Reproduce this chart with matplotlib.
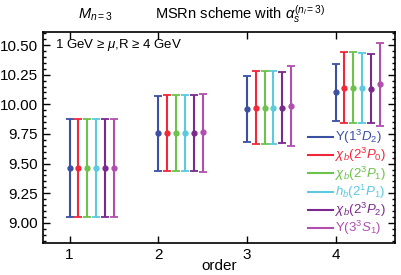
import matplotlib
matplotlib.use('Agg')
import matplotlib.pyplot as plt
from matplotlib.ticker import MultipleLocator

plt.rcParams['font.family'] = ['Liberation Sans', 'DejaVu Sans']
plt.rcParams['mathtext.fontset'] = 'custom'
plt.rcParams['mathtext.rm'] = 'Liberation Sans'
plt.rcParams['mathtext.it'] = 'Liberation Sans:italic'
plt.rcParams['mathtext.bf'] = 'Liberation Sans:bold'

# 數據
orders = [1, 2, 3, 4]
labels = [r'$\Upsilon(1^3D_2)$', r'$\chi_b(2^3P_0)$', r'$\chi_b(2^3P_1)$',
          r'$h_b(2^1P_1)$', r'$\chi_b(2^3P_2)$', r'$\Upsilon(3^3S_1)$']
colors = ['#3B4FA3', '#F0283A', '#6CC24A', '#5BC9DE', '#7A2A8C', '#B04FAE']

center = [
    [9.462, 9.754, 9.957, 10.100],
    [9.462, 9.757, 9.970, 10.139],
    [9.462, 9.757, 9.970, 10.139],
    [9.462, 9.757, 9.970, 10.139],
    [9.462, 9.757, 9.970, 10.131],
    [9.462, 9.763, 9.985, 10.170],
]
upper = [
    [9.875, 10.072, 10.240, 10.339],
    [9.875, 10.078, 10.278, 10.443],
    [9.875, 10.078, 10.278, 10.443],
    [9.875, 10.078, 10.278, 10.432],
    [9.875, 10.078, 10.272, 10.424],
    [9.875, 10.089, 10.322, 10.514],
]
lower = [
    [9.050, 9.439, 9.678, 9.861],
    [9.050, 9.434, 9.662, 9.839],
    [9.050, 9.434, 9.662, 9.839],
    [9.050, 9.434, 9.662, 9.839],
    [9.050, 9.434, 9.670, 9.844],
    [9.050, 9.430, 9.647, 9.816],
]

fig = plt.figure(figsize=(4.01, 2.75), dpi=100)
ax = fig.add_axes([0.107, 0.1164, 0.878, 0.7672])

for i in range(len(labels)):
    xs = [o + 0.1 * i for o in orders]
    yerr = [[c - l for c, l in zip(center[i], lower[i])],
            [u - c for c, u in zip(center[i], upper[i])]]
    ax.errorbar(xs, center[i], yerr=yerr, fmt='o', color=colors[i], ms=3.5,
                elinewidth=1.5, capsize=3, capthick=1.3, zorder=3)

ax.set_xlim(0.7, 4.67)
ax.set_ylim(8.83, 10.61)
ax.xaxis.set_major_locator(MultipleLocator(1))
ax.yaxis.set_major_locator(MultipleLocator(0.25))
ax.yaxis.set_minor_locator(MultipleLocator(0.05))
ax.yaxis.set_major_formatter(matplotlib.ticker.FormatStrFormatter('%.2f'))
ax.tick_params(which='both', direction='in', top=True, right=True,
               labelsize=11, width=1.0)
ax.tick_params(which='major', length=5)
ax.tick_params(which='minor', length=2.5)
for sp in ax.spines.values():
    sp.set_linewidth(1.2)

ax.set_xlabel('order', fontsize=11, labelpad=-2)

ax.text(0.034, 0.938, r'1 GeV ≥ $\mu$,R ≥ 4 GeV', transform=ax.transAxes,
        fontsize=9.5, va='center', ha='left')

fig.text(0.195, 0.931, r'$M_{n=3}$', fontsize=10.5, va='baseline', ha='left')
fig.text(0.386, 0.931, r'MSRn scheme with $\alpha_s^{(n_l=3)}$', fontsize=10.5,
         va='baseline', ha='left')

# 手動圖例 (行距較緊)
row0, row_step = 0.502, 0.0863
for k, (lab, c) in enumerate(zip(labels, colors)):
    yy = row0 - k * row_step
    ax.plot([0.753, 0.824], [yy, yy], color=c, lw=1.5, transform=ax.transAxes,
            clip_on=False)
    ax.text(0.830, yy, lab, color=c, fontsize=9.5, va='center', ha='left',
            transform=ax.transAxes)

fig.savefig('out.png', dpi=100)
